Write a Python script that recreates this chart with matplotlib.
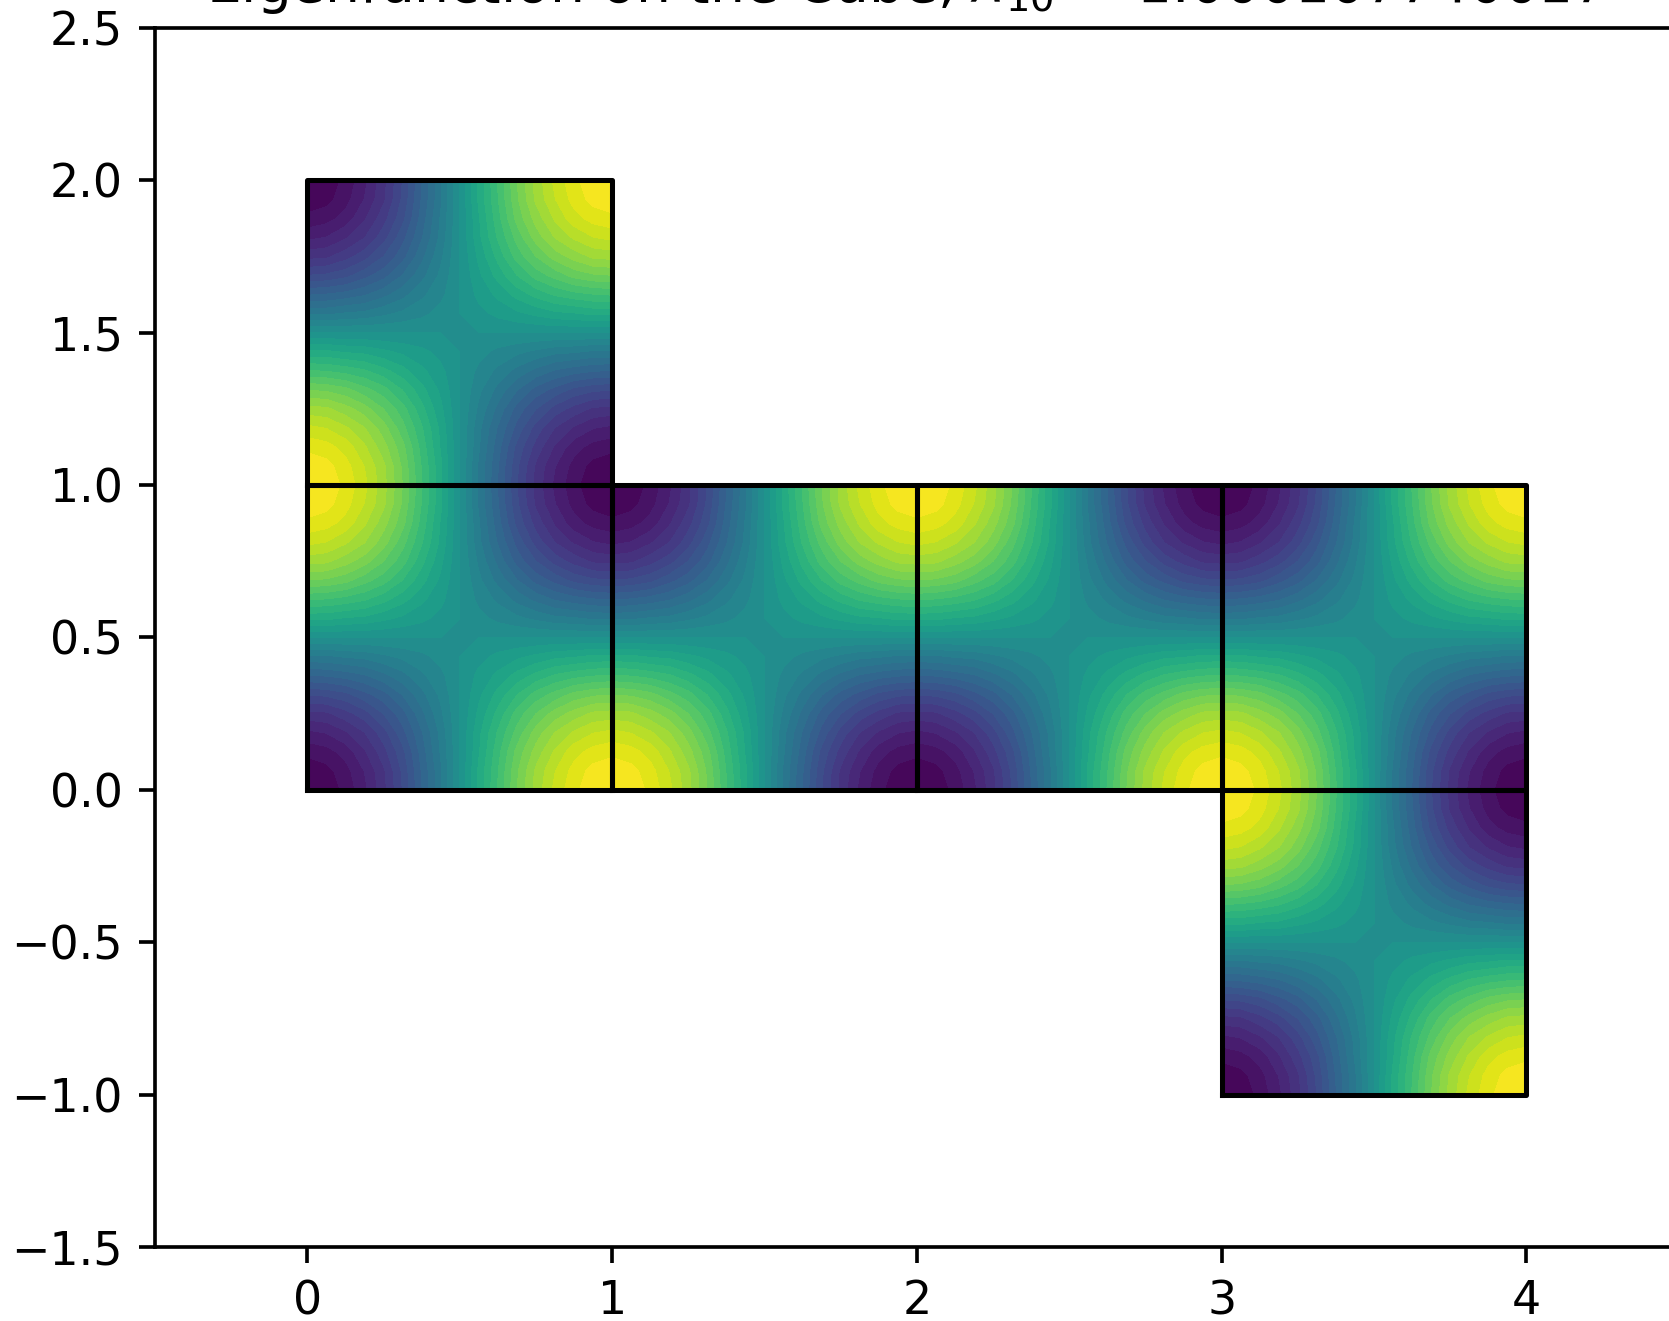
#!/usr/bin/env python3
"""Eigenfunction drawn over the unfolded cube, one contourf per face."""
import numpy as np
import matplotlib; matplotlib.use("Agg")
import matplotlib.pyplot as plt

DPI = 330
W, H = 1669, 1321

# lower-left corner of each cube face, and whether its pattern is flipped
FACE_X = [0, 0, 1, 2, 3, 3]
FACE_Y = [1, 0, 0, 0, 0, -1]
FACE_SIGN = [-1, 1, -1, 1, -1, 1]

# one quadrant of a face (corner -> face centre)
QUADRANT = [
    [1.00, .98, .92, .83, .71, .56, .38, .20, 0],
    [.98, .96, .90, .81, .70, .55, .37, .20, 0],
    [.92, .90, .85, .76, .65, .52, .35, .18, 0],
    [.83, .81, .76, .69, .59, .46, .32, .17, 0],
    [.71, .70, .65, .59, .50, .40, .27, .14, 0],
    [.56, .55, .52, .46, .40, .31, .21, .11, 0],
    [.38, .37, .35, .32, .27, .21, .14, .08, 0],
    [.20, .20, .18, .17, .14, .11, .08, .04, 0],
    [0, 0, 0, 0, 0, 0, 0, 0, 0],
]
GRID = [0, .0625, .125, .1875, .25, .3125, .375, .4375, .5,
        .5625, .625, .6875, .75, .8125, .875, .9375, 1]
LEVELS = [-1 + i / 16 for i in range(33)]
XTICKS = [0, 1, 2, 3, 4]
YTICKS = [-1.5, -1.0, -0.5, 0.0, 0.5, 1.0, 1.5, 2.0, 2.5]
TITLE = r"Eigenfunction on the Cube, $\lambda_{10}$ = 1.000107740017"

# mirror the quadrant into a whole face: dark bottom-left, yellow bottom-right
q = np.array(QUADRANT)
low = -np.hstack([q, -q[:, -2::-1]])
base = np.vstack([low, -low[-2::-1]])

fig = plt.figure(figsize=(W / DPI, H / DPI), dpi=DPI)
ax = fig.add_axes([155 / W, 1 - 1247 / H, 1523.8 / W, 1219 / H])
g = np.array(GRID)
for x0, y0, s in zip(FACE_X, FACE_Y, FACE_SIGN):
    ax.contourf(x0 + g, y0 + g, s * base, levels=LEVELS, cmap="viridis")
    ax.plot([x0, x0 + 1, x0 + 1, x0, x0], [y0, y0, y0 + 1, y0 + 1, y0], color="k", lw=1.1)
ax.set_xlim(-0.5, 4.5); ax.set_ylim(-1.5, 2.5)
ax.set_xticks(XTICKS); ax.set_yticks(YTICKS)
ax.set_title(TITLE, x=0.4923, pad=5.75)
fig.savefig("out.png", dpi=DPI)
